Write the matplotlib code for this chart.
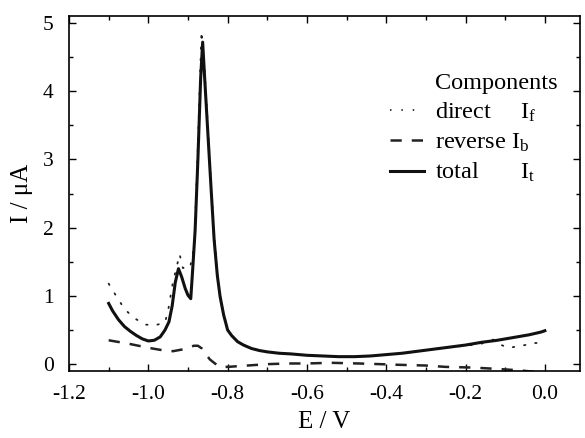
import numpy as np
import matplotlib
matplotlib.use("Agg")
import matplotlib.pyplot as plt
from matplotlib.lines import Line2D
from matplotlib.ticker import MultipleLocator, FormatStrFormatter

plt.rcParams['font.family'] = ['Liberation Serif', 'DejaVu Serif']
plt.rcParams['mathtext.fontset'] = 'custom'
plt.rcParams['mathtext.rm'] = 'Liberation Serif'
plt.rcParams['mathtext.it'] = 'Liberation Serif:italic'

# total current I_t
E_total = [-1.100, -1.090, -1.075, -1.060, -1.045, -1.030, -1.015, -1.000, -0.985,
           -0.970, -0.958, -0.948, -0.940, -0.932, -0.924, -0.916, -0.907, -0.900,
           -0.893, -0.888, -0.882, -0.875, -0.868, -0.863, -0.858, -0.850, -0.842,
           -0.834, -0.826, -0.819, -0.810, -0.800, -0.790, -0.775, -0.760, -0.740,
           -0.720, -0.700, -0.670, -0.640, -0.600, -0.560, -0.520, -0.480, -0.440,
           -0.400, -0.360, -0.320, -0.280, -0.240, -0.200, -0.160, -0.120, -0.080,
           -0.040, -0.010, 0.000]
I_total = [0.89, 0.78, 0.65, 0.55, 0.48, 0.42, 0.37, 0.34, 0.35,
           0.40, 0.50, 0.62, 0.85, 1.20, 1.40, 1.28, 1.11, 1.01,
           0.96, 1.40, 1.96, 3.00, 4.20, 4.72, 4.20, 3.40, 2.60,
           1.82, 1.30, 0.99, 0.72, 0.50, 0.42, 0.33, 0.28, 0.23,
           0.20, 0.18, 0.16, 0.15, 0.13, 0.12, 0.11, 0.11, 0.12,
           0.14, 0.16, 0.19, 0.22, 0.25, 0.28, 0.32, 0.35, 0.39,
           0.43, 0.47, 0.49]

# direct component I_f
E_direct = [-1.100, -1.078, -1.059, -1.034, -1.008, -0.983, -0.958, -0.950, -0.938,
            -0.921, -0.913, -0.895, -0.884, -0.875, -0.866, -0.858, -0.850, -0.842,
            -0.834, -0.826, -0.819, -0.810, -0.800, -0.790, -0.775, -0.760, -0.740,
            -0.720, -0.700, -0.670, -0.640, -0.600, -0.560, -0.520, -0.480, -0.440,
            -0.400, -0.360, -0.320, -0.280, -0.240, -0.200, -0.160, -0.130, -0.110,
            -0.090, -0.070, -0.050, -0.030, -0.015, 0.000]
I_direct = [1.18, 0.97, 0.80, 0.67, 0.58, 0.57, 0.61, 0.79, 1.20,
            1.61, 1.41, 1.41, 1.74, 3.20, 4.88, 4.30, 3.50, 2.65,
            1.88, 1.32, 1.01, 0.73, 0.51, 0.42, 0.33, 0.28, 0.23,
            0.20, 0.18, 0.16, 0.15, 0.13, 0.12, 0.11, 0.11, 0.12,
            0.14, 0.16, 0.19, 0.22, 0.25, 0.27, 0.30, 0.36, 0.28,
            0.24, 0.26, 0.28, 0.31, 0.31, 0.25]

# reverse component I_b
E_rev = [-1.100, -1.050, -1.000, -0.960, -0.938, -0.910, -0.885, -0.875, -0.865,
         -0.855, -0.845, -0.832, -0.819, -0.800, -0.750, -0.700, -0.650, -0.600,
         -0.540, -0.470, -0.415, -0.365, -0.300, -0.250, -0.180, -0.120, -0.065,
         -0.030, 0.000]
I_rev = [0.35, 0.30, 0.24, 0.20, 0.19, 0.22, 0.27, 0.27, 0.23,
         0.15, 0.07, 0.01, -0.04, -0.04, -0.02, 0.00, 0.01, 0.01,
         0.02, 0.01, 0.00, -0.01, -0.02, -0.04, -0.05, -0.07, -0.09,
         -0.11, -0.13]

fig = plt.figure(figsize=(5.85, 4.38), dpi=100)
ax = fig.add_axes([0.118, 0.153, 0.873, 0.810])

ax.plot(E_direct, I_direct, color='#222222', lw=1.3, ls=(0, (0.8, 5.5)),
        dash_capstyle='round')
ax.plot(E_rev, I_rev, color='#222222', lw=1.8, ls=(0, (4.5, 4)))
ax.plot(E_total, I_total, color='#111111', lw=2.2)

ax.set_xlim(-1.2, 0.088)
ax.set_ylim(-0.1, 5.1)
ax.xaxis.set_major_locator(MultipleLocator(0.2))
ax.xaxis.set_minor_locator(MultipleLocator(0.1))
ax.yaxis.set_major_locator(MultipleLocator(1))
ax.yaxis.set_minor_locator(MultipleLocator(0.5))
ax.xaxis.set_major_formatter(FormatStrFormatter('%.1f'))
ax.tick_params(which='both', direction='in', top=True, right=True, labelsize=15.5,
               width=1.0)
ax.tick_params(which='major', length=5)
ax.tick_params(which='minor', length=3)
ax.tick_params(axis='x', which='major', pad=10)
ax.tick_params(axis='y', which='major', pad=11)
for s in ax.spines.values():
    s.set_linewidth(1.2)

ax.set_xlabel('E / V', fontsize=18, labelpad=5)
ax.set_ylabel('I / \u03bcA', fontsize=18, labelpad=7)

handles = [Line2D([], [], ls='none'),
           Line2D([], [], color='#222222', lw=1.3, ls=(0, (0.8, 5.5))),
           Line2D([], [], color='#222222', lw=1.8, ls=(0, (4.5, 4))),
           Line2D([], [], color='#111111', lw=2.2)]
labels = ['Components', r'direct     I$_{\rm f}$', r'reverse I$_{\rm b}$',
          r'total       I$_{\rm t}$']
ax.legend(handles, labels, loc='upper right', bbox_to_anchor=(0.985, 0.885),
          frameon=False, fontsize=17.5, handlelength=1.4, handletextpad=0.45,
          labelspacing=0.3, borderaxespad=0.2)

fig.savefig('out.png', dpi=100)
